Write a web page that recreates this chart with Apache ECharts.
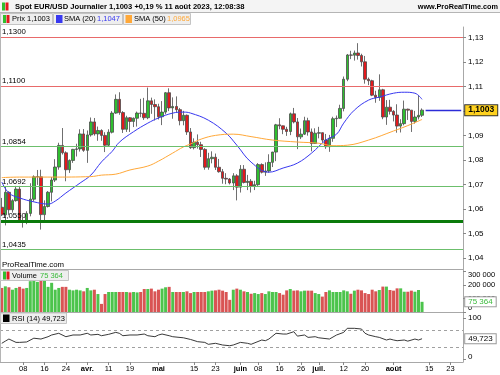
<!DOCTYPE html>
<html><head><meta charset="utf-8">
<script src="https://cdn.jsdelivr.net/npm/echarts@6/dist/echarts.min.js"></script>
<style>html,body{margin:0;padding:0;background:#fff}#c{width:500px;height:375px}</style>
</head><body><div id="c"></div>
<script>
// ---------- DATA ----------
const dates = ['02-28','03-01','03-02','03-03','03-06','03-07','03-08','03-09','03-10','03-13','03-14','03-15','03-16','03-17','03-20','03-21','03-22','03-23','03-24','03-27','03-28','03-29','03-30','03-31','04-03','04-04','04-05','04-06','04-07','04-10','04-11','04-12','04-13','04-14','04-17','04-18','04-19','04-20','04-21','04-24','04-25','04-26','04-27','04-28','05-01','05-02','05-03','05-04','05-05','05-08','05-09','05-10','05-11','05-12','05-15','05-16','05-17','05-18','05-19','05-22','05-23','05-24','05-25','05-26','05-29','05-30','05-31','06-01','06-02','06-05','06-06','06-07','06-08','06-09','06-12','06-13','06-14','06-15','06-16','06-19','06-20','06-21','06-22','06-23','06-26','06-27','06-28','06-29','06-30','07-03','07-04','07-05','07-06','07-07','07-10','07-11','07-12','07-13','07-14','07-17','07-18','07-19','07-20','07-21','07-24','07-25','07-26','07-27','07-28','07-31','08-01','08-02','08-03','08-04','08-07','08-08','08-09','08-10','08-11','08-14','08-15','08-16','08-17','08-18','08-21','08-22','08-23','08-24','08-25','08-28'];

const open = [1.0607,1.0576,1.0668,1.0597,1.0634,1.0681,1.0548,1.0545,1.0582,1.0640,1.0731,1.0731,1.0577,1.0610,1.0668,1.0718,1.0771,1.0859,1.0829,1.0760,1.0798,1.0843,1.0845,1.0906,1.0839,1.0902,1.0955,1.0906,1.0920,1.0900,1.0860,1.0913,1.0991,1.1047,1.0993,1.0925,1.0972,1.0957,1.0970,1.0991,1.0990,1.0972,1.1041,1.1026,1.1017,1.0976,1.0995,1.1074,1.1012,1.1018,1.1005,1.0960,1.0982,1.0914,1.0850,1.0872,1.0862,1.0843,1.0770,1.0805,1.0811,1.0770,1.0752,1.0725,1.0722,1.0706,1.0735,1.0689,1.0762,1.0708,1.0713,1.0693,1.0699,1.0781,1.0750,1.0755,1.0790,1.0832,1.0943,1.0939,1.0925,1.0916,1.0988,1.0955,1.0894,1.0905,1.0960,1.0914,1.0867,1.0909,1.0911,1.0881,1.0854,1.0888,1.0968,1.0970,1.1010,1.1129,1.1228,1.1227,1.1236,1.1226,1.1200,1.1129,1.1123,1.1064,1.1055,1.1086,1.0975,1.1015,1.0998,1.0983,1.0938,1.0948,1.1007,1.1003,1.0957,1.0975,1.0982];
const high = [1.0645,1.0691,1.0672,1.0640,1.0694,1.0694,1.0565,1.0591,1.0705,1.0737,1.0759,1.0760,1.0635,1.0673,1.0730,1.0803,1.0870,1.0930,1.0835,1.0802,1.0845,1.0866,1.0925,1.0926,1.0920,1.0973,1.0971,1.0936,1.0925,1.0913,1.0925,1.0999,1.1067,1.1076,1.0999,1.0980,1.0975,1.0973,1.0997,1.1049,1.1053,1.1095,1.1054,1.1047,1.1029,1.1040,1.1077,1.1092,1.1055,1.1059,1.1012,1.1000,1.0985,1.0930,1.0888,1.0904,1.0874,1.0848,1.0829,1.0835,1.0826,1.0804,1.0763,1.0746,1.0726,1.0746,1.0742,1.0779,1.0779,1.0739,1.0722,1.0715,1.0787,1.0786,1.0790,1.0823,1.0833,1.0947,1.0970,1.0940,1.0935,1.0993,1.1012,1.0971,1.0928,1.0976,1.0972,1.0928,1.0929,1.0935,1.0912,1.0906,1.0902,1.0976,1.0981,1.1025,1.1140,1.1232,1.1245,1.1246,1.1276,1.1233,1.1224,1.1136,1.1127,1.1082,1.1149,1.1090,1.1044,1.1045,1.1003,1.1027,1.0966,1.1042,1.1009,1.1003,1.1000,1.1064,1.1010];
const low = [1.0571,1.0533,1.0576,1.0585,1.0630,1.0547,1.0524,1.0538,1.0570,1.0630,1.0698,1.0516,1.0552,1.0606,1.0631,1.0710,1.0760,1.0822,1.0713,1.0747,1.0788,1.0814,1.0834,1.0833,1.0788,1.0895,1.0899,1.0878,1.0878,1.0832,1.0855,1.0908,1.0988,1.0984,1.0910,1.0914,1.0914,1.0934,1.0936,1.0974,1.0963,1.0966,1.0988,1.0961,1.0965,1.0942,1.0986,1.0999,1.0968,1.0993,1.0941,1.0941,1.0902,1.0845,1.0843,1.0846,1.0812,1.0760,1.0760,1.0786,1.0759,1.0748,1.0703,1.0701,1.0700,1.0677,1.0635,1.0667,1.0704,1.0677,1.0667,1.0677,1.0694,1.0745,1.0735,1.0748,1.0771,1.0795,1.0925,1.0905,1.0898,1.0901,1.0949,1.0844,1.0885,1.0902,1.0899,1.0835,1.0865,1.0888,1.0871,1.0845,1.0833,1.0874,1.0934,1.0968,1.0998,1.1121,1.1211,1.1205,1.1209,1.1181,1.1111,1.1105,1.1060,1.1033,1.1041,1.0966,1.0943,1.0985,1.0957,1.0911,1.0912,1.0941,1.0963,1.0914,1.0948,1.0965,1.0975];
const close = [1.0576,1.0668,1.0597,1.0634,1.0681,1.0548,1.0545,1.0582,1.0640,1.0731,1.0732,1.0577,1.0610,1.0668,1.0718,1.0771,1.0859,1.0829,1.0760,1.0798,1.0843,1.0845,1.0906,1.0839,1.0902,1.0955,1.0906,1.0920,1.0900,1.0860,1.0913,1.0991,1.1047,1.0993,1.0925,1.0972,1.0957,1.0970,1.0991,1.0990,1.0972,1.1041,1.1026,1.1017,1.0976,1.0995,1.1074,1.1012,1.1018,1.1005,1.0960,1.0982,1.0914,1.0850,1.0872,1.0862,1.0843,1.0770,1.0805,1.0811,1.0770,1.0752,1.0725,1.0722,1.0706,1.0735,1.0689,1.0762,1.0708,1.0713,1.0693,1.0699,1.0781,1.0750,1.0755,1.0790,1.0832,1.0943,1.0939,1.0925,1.0916,1.0988,1.0955,1.0894,1.0905,1.0960,1.0914,1.0867,1.0909,1.0911,1.0881,1.0854,1.0888,1.0968,1.0970,1.1010,1.1129,1.1228,1.1227,1.1236,1.1226,1.1200,1.1129,1.1123,1.1064,1.1055,1.1086,1.0975,1.1015,1.0998,1.0983,1.0938,1.0948,1.1007,1.1003,1.0957,1.0975,1.0982,1.1003];
const volume = [178000,190000,183000,165000,178000,186000,173000,178000,228000,241000,223000,236000,236000,186000,216000,165000,178000,186000,186000,165000,160000,165000,160000,153000,178000,160000,165000,133000,60000,133000,148000,148000,148000,148000,148000,148000,145000,148000,145000,148000,170000,170000,173000,153000,165000,173000,183000,186000,148000,148000,148000,148000,153000,140000,148000,148000,148000,148000,153000,158000,160000,165000,158000,148000,90000,165000,173000,165000,153000,148000,135000,140000,133000,140000,133000,153000,148000,148000,140000,128000,160000,170000,158000,160000,153000,158000,158000,158000,140000,133000,114000,148000,160000,148000,148000,148000,160000,153000,135000,158000,165000,160000,140000,133000,165000,153000,163000,188000,188000,163000,158000,175000,175000,150000,150000,158000,150000,163000,75364];
// moving averages and RSI as [day index, value]
const sma20 = [[0,1.0710],[2,1.0665],[5,1.0645],[9,1.0629],[13,1.0620],[15,1.0632],[18,1.0665],[22,1.0706],[25,1.0738],[28,1.0792],[31,1.0835],[33,1.0872],[37,1.0915],[41,1.0950],[44,1.0971],[48,1.0991],[51,1.0995],[53,1.0991],[58,1.0962],[63,1.0909],[66,1.0860],[70,1.0791],[75,1.0750],[79,1.0767],[83,1.0787],[87,1.0828],[91,1.0881],[94,1.0905],[96,1.0950],[99,1.1003],[103,1.1044],[106,1.1056],[110,1.1072],[113,1.1076],[116,1.1072],[118,1.1047]];
const sma50 = [[0,1.0728],[5,1.0730],[14,1.0730],[25,1.0732],[28,1.0738],[32,1.0742],[36,1.0759],[41,1.0775],[44,1.0795],[48,1.0828],[51,1.0853],[53,1.0865],[56,1.0885],[60,1.0900],[65,1.0905],[70,1.0895],[76,1.0881],[83,1.0873],[89,1.0868],[93,1.0858],[97,1.0860],[103,1.0881],[110,1.0918],[114,1.0940],[118,1.0965]];
const rsi = [[0,38.8],[1,44],[2,49],[4,41],[5,41],[7,42],[9,51],[11,49],[13,54.6],[14,58.7],[16,62.8],[18,54.6],[20,58.7],[22,58.7],[24,62.8],[25,58.7],[27,60.3],[28,57],[30,60.3],[32,65],[33,62.8],[34,57],[36,58.7],[38,58.7],[40,61],[41,57],[43,54.6],[44,58.7],[45,61],[47,57],[48,54.6],[51,52],[53,48],[55,42.7],[57,41],[58,36.4],[60,38.8],[62,34.7],[64,33],[65,34.7],[67,41],[69,38.8],[70,36.4],[73,46.7],[74,45],[75,49],[77,62.8],[79,61],[80,61],[82,66.6],[83,56],[85,58.7],[86,53],[88,54.6],[89,52],[92,49],[94,58.7],[96,65],[97,74.7],[99,74.7],[101,73],[102,62.8],[103,58.7],[105,54.6],[106,53],[108,46.7],[109,49],[110,46.7],[111,45],[113,46.7],[114,44],[116,49],[117,46.7],[118,49.723]];
const levels = [1.1300, 1.1100, 1.0854, 1.0692, 1.0550, 1.0435];
const rsiLevels = [70, 30];
const priceTicks = [1.04,1.05,1.06,1.07,1.08,1.09,1.10,1.11,1.12,1.13];
const volumeTicks = [0, 100000, 200000, 300000];
const rsiTicks = [0, 100];
const tickLabels = [['03-08','08'],['03-16','16'],['03-24','24'],['04-03','avr.'],['04-11','11'],['04-19','19'],['05-01','mai'],['05-15','15'],['05-23','23'],['06-01','juin'],['06-08','08'],['06-16','16'],['06-26','26'],['07-03','juil.'],['07-12','12'],['07-20','20'],['08-01','août'],['08-15','15'],['08-23','23']];
const titleText = 'Spot EUR/USD Journalier 1,1003 +0,19 % 11 août 2023, 12:08:38';

// ---------- STYLE / BUILD ----------
const FONT = "'Liberation Sans', Arial, sans-serif";
const GREEN = '#2fbf2f', RED = '#e3191c', BLUE = '#3838f0', ORANGE = '#ffa838';
const VGREEN = '#4cc44c', VRED = '#d95454';
const f4 = v => v.toFixed(4).replace('.', ',');
const f2 = v => v.toFixed(2).replace('.', ',');
const f3 = v => v.toFixed(3).replace('.', ',');
const fvol = v => String(Math.round(v)).replace(/\B(?=(\d{3})+(?!\d))/g, ' ');
const tickMap = Object.fromEntries(tickLabels);
const n = close.length;
const lastClose = close[n - 1];
const lastVol = volume[n - 1];
const lastRsi = rsi[rsi.length - 1][1];
const lastS20 = sma20[sma20.length - 1][1];
const lastS50 = sma50[sma50.length - 1][1];
const last = dates.length - 1;

const candles = close.map((c, i) => [open[i], c, low[i], high[i]]);
const vols = volume.map((v, i) => ({value: v, itemStyle: {color: close[i] >= open[i] ? VGREEN : VRED}}));
const pts = arr => arr.map(p => [dates[p[0]], p[1]]);

const levelStyle = [
  {color: '#e86a6a', width: 1}, {color: '#e86a6a', width: 1},
  {color: '#6cbf6c', width: 1}, {color: '#6cbf6c', width: 1},
  {color: '#0a7a0a', width: 3}, {color: '#6cbf6c', width: 1}
];

function T(x, y, s, o = {}) {
  return {type: 'text', x, y, silent: true, z: 100, style: {
    text: s, font: (o.bold ? 'bold ' : '') + (o.size || 7.5) + 'px ' + FONT,
    fill: o.color || '#000', align: o.align || 'left', verticalAlign: 'middle'}};
}
function R(x, y, w, h, fill, stroke) {
  return {type: 'rect', silent: true, z: 99, shape: {x, y, width: w, height: h},
    style: {fill, stroke: stroke || null, lineWidth: 1}};
}
function L(x1, y1, x2, y2, c) {
  return {type: 'line', silent: true, z: 99, shape: {x1, y1, x2, y2}, style: {stroke: c, lineWidth: 1}};
}
function icon(x, y) { return [R(x, y, 3, 8, GREEN), R(x + 3.5, y, 3, 8, RED)]; }

const graphics = [
  R(0, 0, 500, 12.5, '#f4f4f4'), L(0, 12.5, 500, 12.5, '#b5b5b5'),
  L(0.5, 12.5, 0.5, 362, '#b5b5b5'),
  ...icon(2, 2.5),
  T(15, 6.5, titleText, {bold: true, size: 7.6}),
  T(498, 6.5, 'www.ProRealTime.com', {bold: true, size: 7.3, align: 'right'}),
  R(0.5, 13.5, 52, 11, '#eeeeee', '#c4c4c4'), ...icon(3, 15),
  T(12, 19.2, 'Prix ' + f4(lastClose)),
  R(53.5, 13.5, 69, 11, '#eeeeee', '#c4c4c4'), R(56, 15, 6.5, 8, BLUE),
  T(64, 19.2, 'SMA (20)'), T(97, 19.2, f4(lastS20), {color: BLUE}),
  R(123.5, 13.5, 67, 11, '#eeeeee', '#c4c4c4'), R(125.5, 15, 6.5, 8, ORANGE),
  T(134, 19.2, 'SMA (50)'), T(167, 19.2, f4(lastS50), {color: ORANGE}),
  T(2, 264.5, 'ProRealTime.com', {size: 7.8}),
  R(0.5, 270.5, 68, 10, '#eeeeee', '#c4c4c4'), ...icon(3, 271.5),
  T(12, 275.7, 'Volume'), T(40, 275.7, fvol(lastVol), {color: '#3dbb3d'}),
  R(0.5, 313, 66, 10.5, '#eeeeee', '#c4c4c4'), R(3, 314.5, 6.5, 7.5, '#000'),
  T(12, 318.5, 'RSI (14)'), T(42, 318.5, f3(lastRsi))
];

const grids = [
  {left: 0, right: 37, top: 27, height: 242.3},
  {left: 0, right: 37, top: 269.3, height: 42.7},
  {left: 0, right: 37, top: 312, height: 50}
];
const axisGrey = {lineStyle: {color: '#a8a8a8', width: 1}};
const xAxes = [0, 1, 2].map(g => ({
  type: 'category', gridIndex: g, data: dates, boundaryGap: true,
  axisLine: {show: true, onZero: false, ...axisGrey},
  axisTick: g === 2 ? {show: true, alignWithLabel: true, length: 3, interval: (i, v) => v in tickMap, lineStyle: {color: '#888'}} : {show: false},
  axisLabel: g === 2 ? {
    show: true, interval: (i, v) => v in tickMap, margin: 3, fontSize: 7.5, color: '#000', fontFamily: FONT,
    formatter: v => /\d/.test(tickMap[v]) ? tickMap[v] : '{m|' + tickMap[v] + '}',
    rich: {m: {fontWeight: 'bold', fontSize: 7.5, fontFamily: FONT, color: '#000'}}
  } : {show: false},
  splitLine: {show: false}
}));
const yAxes = [
  {type: 'value', gridIndex: 0, position: 'right', min: 1.0354, max: 1.1342, scale: true,
    axisLine: {show: true, ...axisGrey}, splitLine: {show: false},
    axisTick: {show: true, length: 3, customValues: priceTicks, lineStyle: {color: '#888'}},
    axisLabel: {customValues: priceTicks, formatter: f2, fontSize: 8, color: '#000', margin: 5, fontFamily: FONT}},
  {type: 'value', gridIndex: 1, position: 'right', min: 0, max: 316000,
    axisLine: {show: true, ...axisGrey}, splitLine: {show: false},
    axisTick: {show: true, length: 3, customValues: volumeTicks, lineStyle: {color: '#888'}},
    axisLabel: {customValues: volumeTicks, fontSize: 7.5, color: '#000', margin: 5, fontFamily: FONT,
      formatter: v => v === 0 ? '{lo|0}' : v === 300000 ? '{hi|' + fvol(v) + '}' : fvol(v),
      rich: {lo: {padding: [0, 0, 9, 0], fontSize: 7.5, color: '#000', fontFamily: FONT},
             hi: {padding: [6, 0, 0, 0], fontSize: 7.5, color: '#000', fontFamily: FONT}}}},
  {type: 'value', gridIndex: 2, position: 'right', min: -6, max: 113.8,
    axisLine: {show: true, ...axisGrey}, splitLine: {show: false},
    axisTick: {show: true, length: 3, customValues: rsiTicks, lineStyle: {color: '#888'}},
    axisLabel: {customValues: rsiTicks, fontSize: 8, color: '#000', margin: 5, fontFamily: FONT,
      formatter: v => v === 0 ? '{lo|0}' : String(v),
      rich: {lo: {padding: [0, 0, 5, 0], fontSize: 8, color: '#000', fontFamily: FONT}}}}
];

const boxLabel = (txt, color, bold) => ({
  show: true, position: 'end', distance: 4, formatter: txt, color, fontSize: bold ? 8.5 : 8,
  fontWeight: bold ? 'bold' : 'normal', fontFamily: FONT
});

const series = [
  { // horizontal levels (drawn behind candles)
    type: 'line', xAxisIndex: 0, yAxisIndex: 0, data: [], z: 1, silent: true,
    markLine: {silent: true, symbol: 'none', animation: false, precision: 4,
      data: levels.map((v, i) => ({yAxis: v, lineStyle: {type: 'solid', ...levelStyle[i]},
        label: {show: true, position: 'insideStartTop', formatter: f4(v), color: '#000', fontSize: 7.8, fontFamily: FONT, distance: [2, 1]}}))}
  },
  {
    type: 'candlestick', name: 'Prix', xAxisIndex: 0, yAxisIndex: 0, data: candles, z: 3,
    barWidth: 3,
    itemStyle: {color: GREEN, color0: RED, borderColor: '#4a4a4a', borderColor0: '#4a4a4a', borderWidth: 0.8}
  },
  {type: 'line', name: 'SMA (20)', xAxisIndex: 0, yAxisIndex: 0, data: pts(sma20), smooth: 0.4, symbol: 'none', z: 4,
    lineStyle: {color: BLUE, width: 1}},
  {type: 'line', name: 'SMA (50)', xAxisIndex: 0, yAxisIndex: 0, data: pts(sma50), smooth: 0.4, symbol: 'none', z: 4,
    lineStyle: {color: ORANGE, width: 1}},
  { // current price arrow + yellow box
    type: 'line', xAxisIndex: 0, yAxisIndex: 0, data: [], z: 10,
    markLine: {silent: true, animation: false, precision: 4, symbol: ['none', 'arrow'], symbolSize: [0, 9],
      lineStyle: {color: '#2c2cd8', width: 1.3, type: 'solid'},
      data: [[{coord: [dates[n], lastClose]}, {coord: [dates[last], lastClose],
        label: {...boxLabel(f4(lastClose), '#000', true), backgroundColor: '#ffd21f', borderColor: '#333', borderWidth: 1, padding: [1, 3, 0, 3]}}]]}
  },
  {type: 'bar', name: 'Volume', xAxisIndex: 1, yAxisIndex: 1, data: vols, barWidth: 3, z: 3,
    markLine: {silent: true, animation: false, precision: 0, symbol: 'none', lineStyle: {width: 0, color: 'rgba(0,0,0,0)'},
      data: [[{coord: [dates[n - 1], lastVol]}, {coord: [dates[last], lastVol],
        label: {...boxLabel(fvol(lastVol), '#3dbb3d', false), backgroundColor: '#fff', borderColor: '#999', borderWidth: 1, padding: [1, 3, 0, 3]}}]]}
  },
  {type: 'line', name: 'RSI', xAxisIndex: 2, yAxisIndex: 2, data: pts(rsi), symbol: 'none', z: 3,
    lineStyle: {color: '#222', width: 0.9},
    markLine: {silent: true, animation: false, precision: 3, symbol: 'none',
      data: [
        ...rsiLevels.map(v => ({yAxis: v, lineStyle: {type: [3, 3], color: '#a0a0a0', width: 1}, label: {show: false}})),
        [{coord: [dates[n - 1], lastRsi], lineStyle: {width: 0, color: 'rgba(0,0,0,0)'}}, {coord: [dates[last], lastRsi],
          label: {...boxLabel(f3(lastRsi), '#000', false), backgroundColor: '#fff', borderColor: '#999', borderWidth: 1, padding: [1, 3, 0, 3]}}]
      ]}
  }
];

const chart = echarts.init(document.getElementById('c'), null, {renderer: 'canvas'});
chart.setOption({
  animation: false,
  backgroundColor: '#fff',
  textStyle: {fontFamily: FONT},
  grid: grids, xAxis: xAxes, yAxis: yAxes, series, graphic: graphics
});
</script></body></html>
